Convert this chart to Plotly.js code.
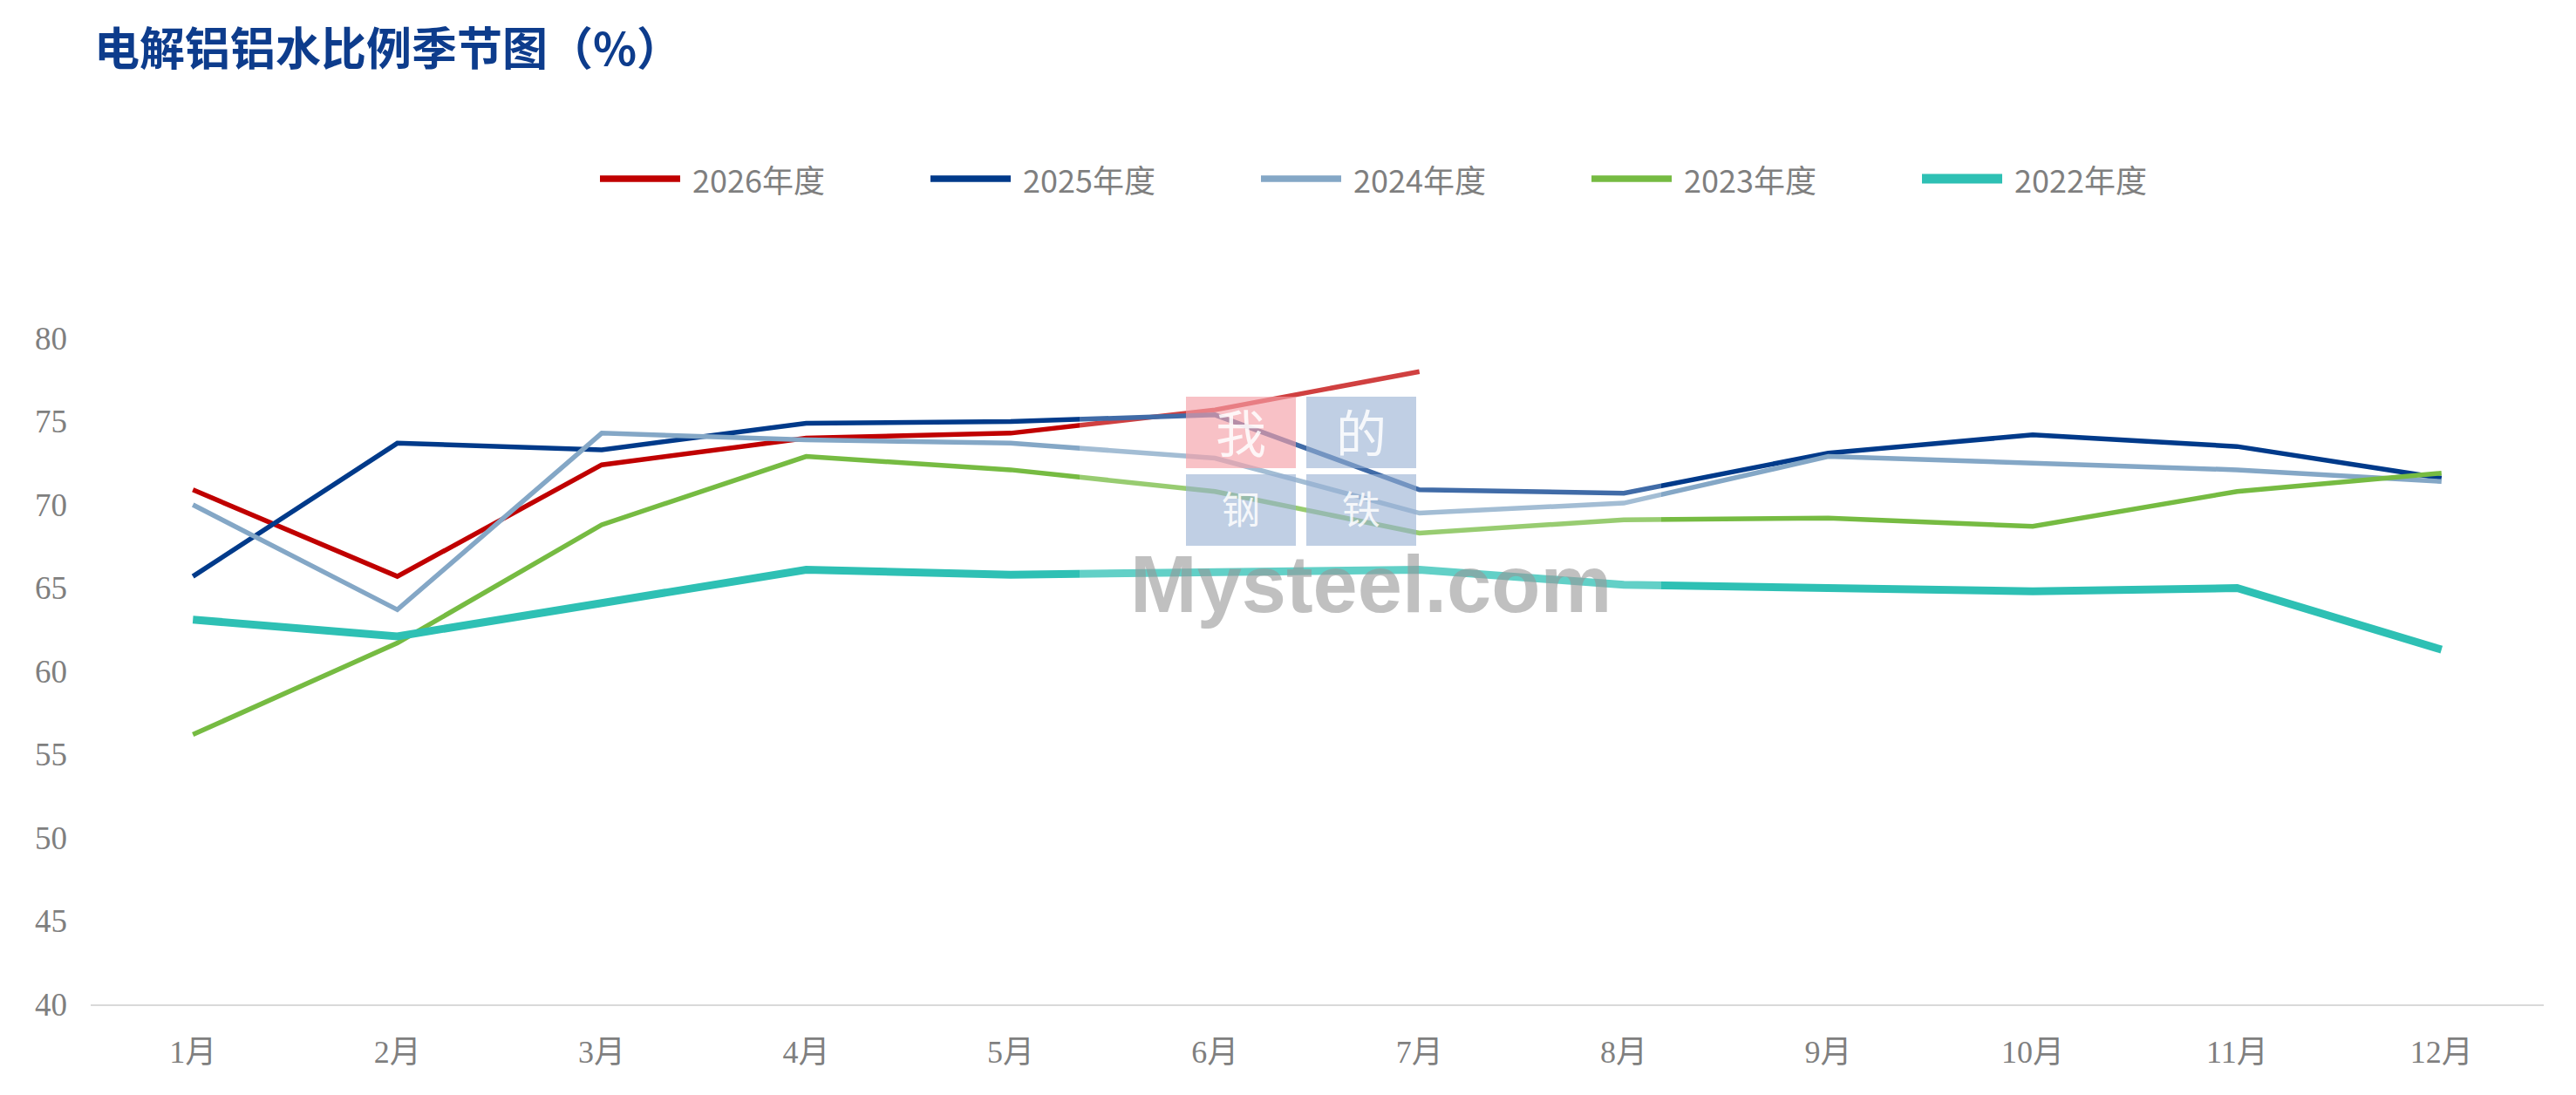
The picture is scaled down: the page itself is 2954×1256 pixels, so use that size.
<!DOCTYPE html>
<html>
<head>
<meta charset="utf-8">
<script src="https://cdn.plot.ly/plotly-3.0.1.min.js"></script>
<style>html,body{margin:0;padding:0;background:#fff;}#chart{width:2954px;height:1256px;}</style>
</head>
<body>
<div id="chart"></div>
<script>
// ---- data ----
const months = ['1月','2月','3月','4月','5月','6月','7月','8月','9月','10月','11月','12月'];
const yTicks = [40,45,50,55,60,65,70,75,80];
const seriesNames = ['2026年度','2025年度','2024年度','2023年度','2022年度'];
const y2026 = [70.9, 65.7, 72.4, 74.0, 74.3, 75.7, 78.0];
const y2025 = [65.7, 73.7, 73.3, 74.9, 75.0, 75.4, 70.9, 70.7, 73.1, 74.2, 73.5, 71.6];
const y2024 = [70.0, 63.7, 74.3, 73.9, 73.7, 72.8, 69.5, 70.1, 72.9, 72.5, 72.1, 71.4];
const y2023 = [56.2, 61.7, 68.8, 72.9, 72.1, 70.8, 68.3, 69.1, 69.2, 68.7, 70.8, 71.9];
const y2022 = [63.1, 62.1, 64.1, 66.1, 65.8, 66.0, 66.1, 65.2, 65.0, 64.8, 65.0, 61.3];

// ---- styles ----
const colors = ['#C00000','#003A8A','#84A7C6','#76BB42','#2EC0B4'];
const widths = [5.5,5.5,5.5,5.5,9];
const values = [y2026,y2025,y2024,y2023,y2022];

const W = 2954, H = 1256;
const L = 104, R = 2917, T = 388, B = 1152;
const px = x => (x - L) / (R - L);
const py = y => (B - y) / (B - T);

const traces = values.map((v, i) => ({
  type: 'scatter', mode: 'lines',
  x: months.slice(0, v.length), y: v,
  name: seriesNames[i],
  line: {color: colors[i], width: widths[i]},
  showlegend: false, hoverinfo: 'skip'
}));

const shapes = [];
const annotations = [];
// custom legend (long line samples)
seriesNames.forEach((n, i) => {
  const x0 = 688 + i * 379;
  shapes.push({type: 'line', xref: 'paper', yref: 'paper',
    x0: px(x0), x1: px(x0 + 92), y0: py(205), y1: py(205),
    line: {color: colors[i], width: widths[i] + 2}});
  annotations.push({xref: 'paper', yref: 'paper', x: px(x0 + 104), y: py(205),
    xanchor: 'left', yanchor: 'middle', showarrow: false, text: n,
    font: {family: 'Noto Sans CJK SC, sans-serif', size: 36, color: '#7f7f7f'}});
});

// watermark
shapes.push({type: 'rect', xref: 'paper', yref: 'paper', layer: 'above',
  x0: px(1238), x1: px(1905), y0: py(712), y1: py(405),
  fillcolor: 'rgba(255,255,255,0.25)', line: {width: 0}});
const boxes = [
  {x: 1360, y: 455, c: 'rgba(244,160,168,0.65)', t: '我', s: 58, cy: 494},
  {x: 1498, y: 455, c: 'rgba(150,175,210,0.6)', t: '的', s: 58, cy: 494},
  {x: 1360, y: 544, c: 'rgba(150,175,210,0.6)', t: '钢', s: 44, cy: 582},
  {x: 1498, y: 544, c: 'rgba(150,175,210,0.6)', t: '铁', s: 44, cy: 582}
];
boxes.forEach(b => {
  shapes.push({type: 'rect', xref: 'paper', yref: 'paper', layer: 'above',
    x0: px(b.x), x1: px(b.x + 126), y0: py(b.y + 82), y1: py(b.y),
    fillcolor: b.c, line: {width: 0}});
  annotations.push({xref: 'paper', yref: 'paper', x: px(b.x + 63), y: py(b.cy),
    xanchor: 'center', yanchor: 'middle', showarrow: false, text: b.t,
    font: {family: 'Noto Sans CJK SC, sans-serif', size: b.s, color: 'rgba(255,255,255,0.85)'}});
});
annotations.push({xref: 'paper', yref: 'paper', x: px(1572), y: py(670),
  xanchor: 'center', yanchor: 'middle', showarrow: false, text: '<b>Mysteel.com</b>',
  font: {family: 'Liberation Sans, Arial, sans-serif', size: 92, color: 'rgba(150,150,150,0.6)'}});

const layout = {
  width: W, height: H,
  margin: {l: L, r: W - R, t: T, b: H - B, pad: 0},
  paper_bgcolor: '#fff', plot_bgcolor: '#fff',
  title: {
    text: '电解铝铝水比例季节图（%）',
    x: 108 / W, xanchor: 'left', xref: 'container',
    y: 1 - 57 / H, yanchor: 'middle', yref: 'container',
    font: {family: 'Noto Sans CJK SC, sans-serif', size: 52, color: '#0D3C8C', weight: 700}
  },
  xaxis: {
    type: 'category', categoryarray: months, range: [-0.5, 11.5],
    showgrid: false, zeroline: false,
    showline: true, linecolor: '#d9d9d9', linewidth: 2,
    ticks: '', ticklabelstandoff: 22,
    tickfont: {family: 'Liberation Serif, Noto Sans CJK SC, serif', size: 36, color: '#7f7f7f'}
  },
  yaxis: {
    range: [40, 80], tickvals: yTicks, ticktext: yTicks.map(String),
    showgrid: false, zeroline: false, showline: false,
    ticks: '', ticklabelstandoff: 26,
    tickfont: {family: 'Liberation Serif, serif', size: 37, color: '#7f7f7f'}
  },
  showlegend: false,
  shapes: shapes,
  annotations: annotations
};

Plotly.newPlot('chart', traces, layout, {staticPlot: true, displayModeBar: false});
</script>
</body>
</html>
